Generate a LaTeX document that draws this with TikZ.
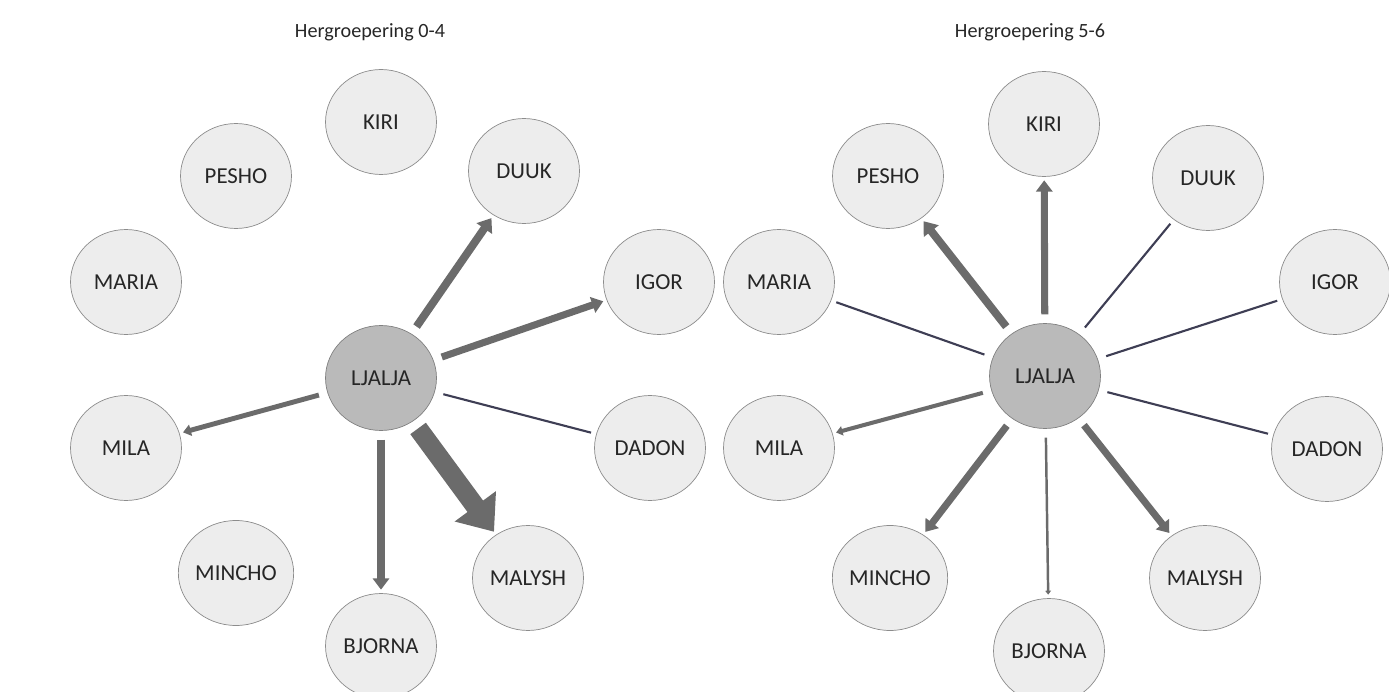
\documentclass[tikz,border=0pt]{standalone}
\usepackage{fontspec}
\setmainfont{Carlito}
\usetikzlibrary{arrows.meta, shapes.geometric}
\definecolor{tiecol}{RGB}{62,62,84}

\begin{document}
\begin{tikzpicture}[x=0.02cm, y=-0.02cm,
  kid/.style={ellipse, draw=black!45, fill=black!7, minimum width=2.22cm, minimum height=2.1cm, inner sep=0pt, text=black!85, font=\fontsize{13}{15}\selectfont},
  star/.style={kid, fill=black!27, draw=black!50},
  kop/.style={text=black!85, font=\fontsize{11.5}{13}\selectfont},
  tie/.style={draw=tiecol, line width=1.2pt, shorten <=5pt, shorten >=3pt},
  pick/.style={draw=black!58, line width=#1, shorten <=5pt, shorten >=2pt, -{Triangle[length=1.6*#1, width=2.3*#1]}},
  bigpick/.style={draw=black!58, line width=11pt, shorten <=5pt, shorten >=2pt, -{Triangle[length=18pt, width=28pt]}}]
\useasboundingbox (0,0) rectangle (1389,692);

\node[kop] (t1) at (370,32) {Hergroepering 0-4};
\node[kid] (kiri1) at (381,122) {KIRI};
\node[kid] (pesho1) at (236,176) {PESHO};
\node[kid] (duuk1) at (524,171) {DUUK};
\node[kid] (maria1) at (126,282) {MARIA};
\node[kid] (igor1) at (659,282) {IGOR};
\node[star] (ljalja1) at (381,378) {LJALJA};
\node[kid] (mila1) at (126,448) {MILA};
\node[kid] (dadon1) at (650,448) {DADON};
\node[kid] (mincho1) at (236,573) {MINCHO};
\node[kid] (malysh1) at (528,578) {MALYSH};
\node[kid] (bjorna1) at (381,646) {BJORNA};

\draw[pick=4.5pt] (ljalja1) -- (duuk1);
\draw[pick=4pt] (ljalja1) -- (igor1);
\draw[tie] (ljalja1) -- (dadon1);
\draw[bigpick] (ljalja1) -- (malysh1);
\draw[pick=4pt] (ljalja1) -- (bjorna1);
\draw[pick=2.8pt] (ljalja1) -- (mila1);

\node[kop] (t2) at (1030,32) {Hergroepering 5-6};
\node[kid] (kiri2) at (1044,124) {KIRI};
\node[kid] (pesho2) at (888,176) {PESHO};
\node[kid] (duuk2) at (1208,178) {DUUK};
\node[kid] (maria2) at (779,282) {MARIA};
\node[kid] (igor2) at (1335,282) {IGOR};
\node[star] (ljalja2) at (1045,376) {LJALJA};
\node[kid] (mila2) at (779,448) {MILA};
\node[kid] (dadon2) at (1327,449) {DADON};
\node[kid] (mincho2) at (890,578) {MINCHO};
\node[kid] (malysh2) at (1205,578) {MALYSH};
\node[kid] (bjorna2) at (1049,651) {BJORNA};

\draw[pick=4.5pt] (ljalja2) -- (pesho2);
\draw[pick=4pt] (ljalja2) -- (kiri2);
\draw[tie] (ljalja2) -- (duuk2);
\draw[tie] (ljalja2) -- (igor2);
\draw[tie] (ljalja2) -- (maria2);
\draw[tie] (ljalja2) -- (dadon2);
\draw[pick=2.3pt] (ljalja2) -- (mila2);
\draw[pick=4pt] (ljalja2) -- (mincho2);
\draw[pick=1.4pt] (ljalja2) -- (bjorna2);
\draw[pick=4pt] (ljalja2) -- (malysh2);
\end{tikzpicture}
\end{document}
